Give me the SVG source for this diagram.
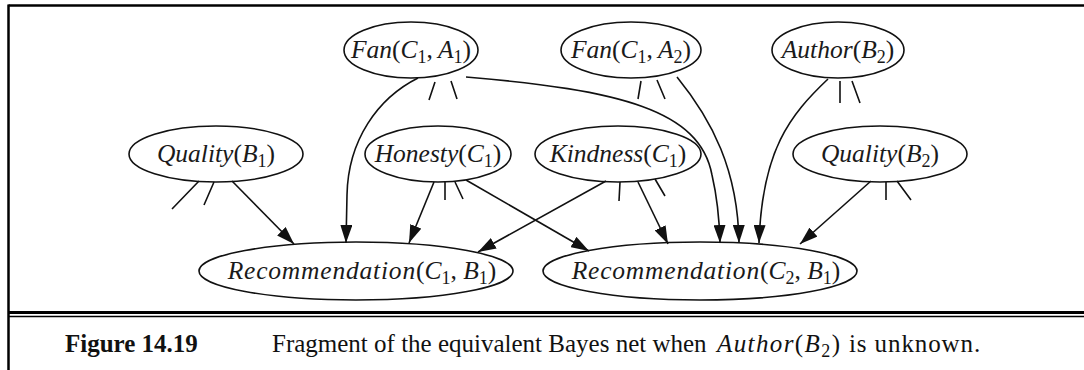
<svg xmlns="http://www.w3.org/2000/svg" width="1084" height="370" viewBox="0 0 1084 370">
<defs>
<marker id="ah" markerUnits="userSpaceOnUse" markerWidth="20" markerHeight="12" refX="18" refY="6" orient="auto">
<path d="M0,0 L18,6 L0,12 Z" fill="#111"/>
</marker>
<style>
.n{fill:none;stroke:#111;stroke-width:1.6}
.e{fill:none;stroke:#111;stroke-width:1.6}
.t{fill:none;stroke:#111;stroke-width:1.6}
.l{font-family:"Liberation Serif",serif;font-size:25.5px;fill:#1a1a1a;text-anchor:middle}
.i{font-style:italic}
.s{font-size:18px}
.r{letter-spacing:0.8px}
.cap{font-family:"Liberation Serif",serif;font-size:25px;fill:#111}
</style>
</defs>
<rect width="1084" height="370" fill="#fff"/>
<g id="frame" stroke="#000" fill="none">
<line x1="8.5" y1="5.5" x2="1084" y2="5.5" stroke-width="2.5"/>
<line x1="8.5" y1="4.5" x2="8.5" y2="370" stroke-width="2.5"/>
<line x1="8.5" y1="312.5" x2="1084" y2="312.5" stroke-width="3"/>
<line x1="8.5" y1="316.5" x2="1084" y2="316.5" stroke-width="1.5"/>
</g>
<g id="connectors">
<path class="e" d="M232,181 L294,244" marker-end="url(#ah)"/>
<path class="t" d="M199,181 L172,209 M214,182 L204,205"/>
<path class="e" d="M418,78 C378,98 348,140 347,195 L346,243" marker-end="url(#ah)"/>
<path class="t" d="M435,82 L429,100 M451,81 L457,99"/>
<path class="e" d="M466,77 C620,90 700,110 712,175 Q719,205 720,243" marker-end="url(#ah)"/>
<path class="t" d="M641,81 L638,99 M657,80 L665,99"/>
<path class="e" d="M677,77 C712,120 738,170 739,243" marker-end="url(#ah)"/>
<path class="t" d="M840,81 L840,103 M852,81 L860,103"/>
<path class="e" d="M828,79 C790,115 762,150 759,243" marker-end="url(#ah)"/>
<path class="e" d="M434,182 L409,243" marker-end="url(#ah)"/>
<path class="t" d="M445,182 L445,200 M455,182 L463,199"/>
<path class="e" d="M466,180 L589,251" marker-end="url(#ah)"/>
<path class="e" d="M606,181 L478,252" marker-end="url(#ah)"/>
<path class="t" d="M620,182 L619,201 M655,179 L665,196"/>
<path class="e" d="M638,182 L668,244" marker-end="url(#ah)"/>
<path class="e" d="M871,181 L800,244" marker-end="url(#ah)"/>
<path class="t" d="M886,182 L886,200 M897,181 L911,200"/>
</g>
<g id="fan_c1_a1">
<ellipse class="n" cx="411" cy="50" rx="67" ry="28"/>
<text class="l" x="411" y="58"><tspan class="i">Fan</tspan>(<tspan class="i">C</tspan><tspan class="s" dy="5">1</tspan><tspan dy="-5">,</tspan><tspan class="i" dx="5">A</tspan><tspan class="s" dy="5">1</tspan><tspan dy="-5">)</tspan></text>
</g>
<g id="fan_c1_a2">
<ellipse class="n" cx="631" cy="50" rx="70" ry="28"/>
<text class="l" x="631" y="58"><tspan class="i">Fan</tspan>(<tspan class="i">C</tspan><tspan class="s" dy="5">1</tspan><tspan dy="-5">,</tspan><tspan class="i" dx="5">A</tspan><tspan class="s" dy="5">2</tspan><tspan dy="-5">)</tspan></text>
</g>
<g id="author_b2">
<ellipse class="n" cx="838" cy="50" rx="66" ry="28"/>
<text class="l" x="838" y="58"><tspan class="i">Author</tspan>(<tspan class="i">B</tspan><tspan class="s" dy="5">2</tspan><tspan dy="-5">)</tspan></text>
</g>
<g id="quality_b1">
<ellipse class="n" cx="216" cy="154" rx="87" ry="28"/>
<text class="l" x="216" y="162"><tspan class="i">Quality</tspan>(<tspan class="i">B</tspan><tspan class="s" dy="5">1</tspan><tspan dy="-5">)</tspan></text>
</g>
<g id="honesty_c1">
<ellipse class="n" cx="438" cy="154" rx="73" ry="28"/>
<text class="l" x="438" y="162"><tspan class="i">Honesty</tspan>(<tspan class="i">C</tspan><tspan class="s" dy="5">1</tspan><tspan dy="-5">)</tspan></text>
</g>
<g id="kindness_c1">
<ellipse class="n" cx="618" cy="154" rx="83" ry="28"/>
<text class="l" x="618" y="162"><tspan class="i">Kindness</tspan>(<tspan class="i">C</tspan><tspan class="s" dy="5">1</tspan><tspan dy="-5">)</tspan></text>
</g>
<g id="quality_b2">
<ellipse class="n" cx="880" cy="154" rx="87" ry="28"/>
<text class="l" x="880" y="162"><tspan class="i">Quality</tspan>(<tspan class="i">B</tspan><tspan class="s" dy="5">2</tspan><tspan dy="-5">)</tspan></text>
</g>
<g id="rec_c1_b1">
<ellipse class="n" cx="356" cy="271" rx="157" ry="29"/>
<text class="l" x="362" y="279"><tspan class="i r">Recommendation</tspan>(<tspan class="i">C</tspan><tspan class="s" dy="5">1</tspan><tspan dy="-5">, </tspan><tspan class="i">B</tspan><tspan class="s" dy="5">1</tspan><tspan dy="-5">)</tspan></text>
</g>
<g id="rec_c2_b1">
<ellipse class="n" cx="700" cy="271" rx="157" ry="29"/>
<text class="l" x="706" y="279"><tspan class="i r">Recommendation</tspan>(<tspan class="i">C</tspan><tspan class="s" dy="5">2</tspan><tspan dy="-5">, </tspan><tspan class="i">B</tspan><tspan class="s" dy="5">1</tspan><tspan dy="-5">)</tspan></text>
</g>
<g id="caption">
<text class="cap" x="65" y="352" font-weight="bold">Figure 14.19</text>
<text class="cap" x="272" y="352">Fragment of the equivalent Bayes net when</text>
<text class="cap" x="717" y="352" font-size="25.5" letter-spacing="1.4"><tspan class="i">Author</tspan>(<tspan class="i">B</tspan><tspan class="s" dy="5">2</tspan><tspan dy="-5">)</tspan></text>
<text class="cap" x="849" y="352" font-size="25.5" letter-spacing="0.9">is unknown.</text>
</g>
</svg>
